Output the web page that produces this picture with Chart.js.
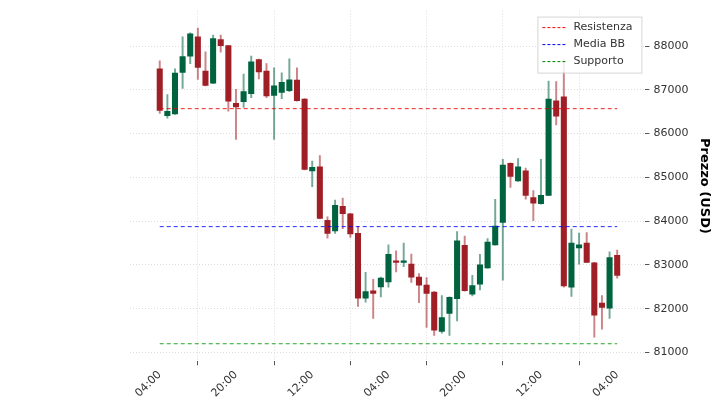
<!DOCTYPE html>
<html>
<head>
<meta charset="utf-8">
<script src="https://cdn.jsdelivr.net/npm/chart.js@4.4.0/dist/chart.umd.min.js"></script>
<style>
	html, body { margin: 0; padding: 0; background: #fff; }
	#wrap { width: 720px; height: 405px; }
</style>
</head>
<body>
<div id="wrap"><canvas id="chart"></canvas></div>
<script>
const opens = [
	87480, 86410, 86450, 87400, 87770, 88210, 87430, 87150, 88150, 88010,
	86690, 86730, 86910, 87690, 87430, 86870, 86940, 86980, 87220, 86790,
	85150, 85240, 84020, 83780, 84340, 84170, 83720, 82240, 82410, 82500,
	82610, 83080, 83060, 83020, 82720, 82540, 82380, 81480, 81890, 82230,
	83450, 82330, 82560, 82930, 83460, 83970, 85320, 84920, 85150, 84540,
	84400, 84590, 86750, 86840, 82490, 83390, 83500, 83050, 82130, 82010,
	83220
];
const closes = [
	86530, 86510, 87380, 87760, 88280, 87510, 87100, 88170, 88010, 86740,
	86610, 86960, 87640, 87410, 86860, 87090, 87170, 87230, 86750, 85180,
	85230, 84060, 83720, 84360, 84170, 83710, 82240, 82390, 82350, 82700,
	83240, 83060, 83080, 82720, 82540, 82350, 81510, 81800, 82260, 83550,
	82410, 82530, 83000, 83520, 83890, 85280, 85020, 85240, 84590, 84410,
	84590, 86790, 86400, 82520, 83500, 83460, 83060, 81850, 82030, 83170,
	82760
];
const highs = [
	87660, 86890, 87480, 88210, 88300, 88410, 87870, 88250, 88250, 88010,
	87010, 87360, 87770, 87700, 87600, 87500, 87390, 87710, 87500, 86800,
	85370, 85500, 84100, 84480, 84530, 84180, 83880, 82830, 82670, 82720,
	83460, 83320, 83500, 83250, 82800, 82710, 82390, 82300, 82270, 83760,
	83660, 82760, 83240, 83600, 84500, 85410, 85330, 85430, 85210, 84700,
	85410, 87200, 87190, 87680, 83820, 83730, 83740, 83060, 82300, 83300,
	83340
];
const lows = [
	86460, 86350, 86440, 87030, 87600, 87240, 87090, 87140, 87860, 86510,
	85870, 86600, 86820, 87250, 86820, 85870, 86800, 86960, 86740, 85170,
	84790, 84050, 83610, 83720, 83830, 83630, 82050, 82150, 81780, 82270,
	82490, 82840, 82960, 82600, 82140, 81570, 81390, 81440, 81390, 81720,
	82400, 82290, 82430, 82920, 83450, 82650, 84770, 84910, 84500, 84010,
	84390, 84580, 86200, 82490, 82280, 83020, 83050, 81350, 81530, 81780,
	82700
];
const tickLabels = ["04:00", "20:00", "12:00", "04:00", "20:00", "12:00", "04:00"];
const resistenza = 86570;
const mediaBB = 83875;
const supporto = 81200;

const upColor = '#006340';
const downColor = '#a01f27';
const upWick = 'rgba(0,99,64,0.55)';
const downWick = 'rgba(160,31,39,0.55)';

const idx = opens.map((o, i) => i);
const isUp = idx.map(i => closes[i] >= opens[i]);
const lastX = opens.length - 1;

const levelLine = (label, value, color) => ({
	type: 'line',
	label,
	data: [{x: 0, y: value}, {x: lastX, y: value}],
	borderColor: color,
	borderWidth: 1,
	borderDash: [4, 3],
	pointRadius: 0,
	order: 0
});

const legendPlugin = {
	id: 'insideLegend',
	afterDraw(chart) {
		const {ctx, chartArea} = chart;
		const items = [['Resistenza', 'red'], ['Media BB', 'blue'], ['Supporto', 'green']];
		const w = 104, h = 56;
		const x0 = chartArea.right - w - 4, y0 = chartArea.top + 6;
		ctx.save();
		ctx.fillStyle = 'rgba(255,255,255,0.85)';
		ctx.strokeStyle = '#d6d6d6';
		ctx.lineWidth = 1;
		ctx.fillRect(x0, y0, w, h);
		ctx.strokeRect(x0 + 0.5, y0 + 0.5, w, h);
		ctx.font = '11px "DejaVu Sans"';
		ctx.textBaseline = 'middle';
		items.forEach(([label, color], i) => {
			const y = y0 + 11 + i * 17;
			ctx.strokeStyle = color;
			ctx.setLineDash([3, 2]);
			ctx.beginPath();
			ctx.moveTo(x0 + 5, y);
			ctx.lineTo(x0 + 28, y);
			ctx.stroke();
			ctx.setLineDash([]);
			ctx.fillStyle = '#333';
			ctx.fillText(label, x0 + 36, y);
		});
		ctx.restore();
	}
};

new Chart(document.getElementById('chart'), {
	type: 'bar',
	data: {
		datasets: [
			levelLine('Resistenza', resistenza, 'rgba(230,0,0,0.85)'),
			levelLine('Media BB', mediaBB, 'rgba(0,0,255,0.85)'),
			levelLine('Supporto', supporto, 'rgba(0,150,0,0.85)'),
			{
				label: 'wick',
				data: idx.map(i => ({x: i, y: [lows[i], highs[i]]})),
				backgroundColor: idx.map(i => isUp[i] ? upWick : downWick),
				barThickness: 1.3,
				grouped: false,
				order: 2
			},
			{
				label: 'body',
				data: idx.map(i => ({x: i, y: [opens[i], closes[i]]})),
				backgroundColor: idx.map(i => isUp[i] ? upColor : downColor),
				barThickness: 5.4,
				minBarLength: 1.5,
				grouped: false,
				order: 1
			}
		]
	},
	options: {
		responsive: true,
		maintainAspectRatio: false,
		animation: false,
		layout: {padding: {left: 130, right: 4, top: 5, bottom: 2}},
		plugins: {legend: {display: false}, tooltip: {enabled: false}},
		scales: {
			x: {
				type: 'linear',
				min: -3.9,
				max: 63.7,
				offset: false,
				afterBuildTicks: (scale) => {
					scale.ticks = tickLabels.map((t, i) => ({value: i * 10}));
				},
				ticks: {
					callback: (v) => tickLabels[Math.round(v / 10)],
					maxRotation: 45,
					minRotation: 45,
					color: '#333',
					font: {family: 'DejaVu Sans', size: 11}
				},
				grid: {color: '#dcdcdc', borderDash: [1, 2], tickColor: '#555', tickLength: 4, drawTicks: true},
				border: {display: false, dash: [1, 2]}
			},
			y: {
				position: 'right',
				min: 80800,
				max: 88810,
				afterBuildTicks: (scale) => {
					scale.ticks = [81000, 82000, 83000, 84000, 85000, 86000, 87000, 88000].map(v => ({value: v}));
				},
				ticks: {
					color: '#333',
					padding: 4,
					font: {family: 'DejaVu Sans', size: 11},
					callback: (v) => String(v)
				},
				title: {
					display: true,
					text: 'Prezzo (USD)',
					color: '#000',
					font: {family: 'DejaVu Sans', size: 13, weight: 'bold'}
				},
				grid: {color: '#dcdcdc', tickColor: '#555', tickLength: 4},
				border: {display: false, dash: [1, 2]}
			}
		}
	},
	plugins: [legendPlugin]
});
</script>
</body>
</html>
